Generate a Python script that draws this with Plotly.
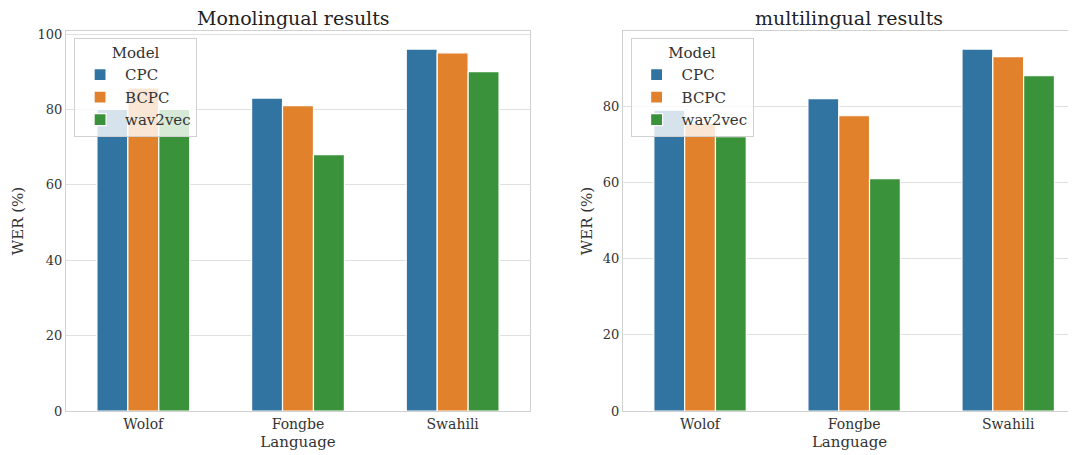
import plotly.graph_objects as go
from plotly.subplots import make_subplots

languages = ["Wolof", "Fongbe", "Swahili"]
models = ["CPC", "BCPC", "wav2vec"]
mono_cpc = [80, 83, 96]
mono_bcpc = [85.7, 81, 95]
mono_wav2vec = [80, 68, 90]
multi_cpc = [79, 82, 95]
multi_bcpc = [75.5, 77.5, 93]
multi_wav2vec = [72, 61, 88]
colors = ["#3274a1", "#e1812c", "#3a923a"]
y_ticks = [0, 20, 40, 60, 80, 100]

FONT = "DejaVu Serif"
TXT = "#333333"
fig = make_subplots(rows=1, cols=2,
                    subplot_titles=["Monolingual results", "multilingual results"])
fig.update_layout(xaxis=dict(domain=[0, 0.4594]), xaxis2=dict(domain=[0.5515, 1.0]))

mono = [mono_cpc, mono_bcpc, mono_wav2vec]
multi = [multi_cpc, multi_bcpc, multi_wav2vec]
for i, m in enumerate(models):
    fig.add_trace(go.Bar(x=languages, y=mono[i], name=m, marker_color=colors[i],
                         marker_line_color="white", marker_line_width=1.2,
                         legend="legend", legendgroup="a"), row=1, col=1)
for i, m in enumerate(models):
    fig.add_trace(go.Bar(x=languages, y=multi[i], name=m, marker_color=colors[i],
                         marker_line_color="white", marker_line_width=1.2,
                         legend="legend2", legendgroup="b"), row=1, col=2)

titlef = dict(family=FONT, size=15, color=TXT)
fig.update_xaxes(showgrid=False, showline=True, linecolor="#d0d0d0", linewidth=1.3,
                 mirror=True, ticks="", tickfont=dict(family=FONT, size=14, color=TXT),
                 automargin=False,
                 title=dict(text="Language", font=titlef, standoff=5))
fig.update_xaxes(range=[-0.5, 2.5], row=1, col=1)
fig.update_xaxes(range=[-0.5, 2.44], row=1, col=2)
fig.update_yaxes(showgrid=True, gridcolor="#e0e0e0", gridwidth=1, tickvals=y_ticks,
                 zeroline=False, showline=True, linecolor="#d0d0d0", linewidth=1.3,
                 ticks="", tickfont=dict(family=FONT, size=13, color=TXT), automargin=False,
                 title=dict(text="WER (%)", font=titlef))
fig.update_yaxes(range=[0, 100.8], mirror=True, title_standoff=10, row=1, col=1)
fig.update_yaxes(range=[0, 99.75], mirror=False, title_standoff=6, row=1, col=2)

leg = dict(title=dict(text="Model", side="top center", font=dict(family=FONT, size=15, color=TXT)),
           font=dict(family=FONT, size=15, color=TXT),
           bgcolor="rgba(255,255,255,0.8)", bordercolor="#d0d0d0", borderwidth=1,
           xanchor="left", yanchor="top", tracegroupgap=0, itemwidth=40)
# page body has an 8px default margin, so the figure is sized to fit the window
fig.update_layout(
    width=1068, height=447,
    margin=dict(l=58, r=0, t=23, b=44),
    plot_bgcolor="white", paper_bgcolor="white",
    barmode="group", bargap=0.4, bargroupgap=0,
    font=dict(family=FONT, color=TXT),
    legend=dict(x=0.008, y=0.982, **leg),
    legend2=dict(x=0.559, y=0.982, **leg),
)
for a in fig.layout.annotations:
    a.font = dict(family=FONT, size=19, color="#222222")

fig.write_html("out.html")
